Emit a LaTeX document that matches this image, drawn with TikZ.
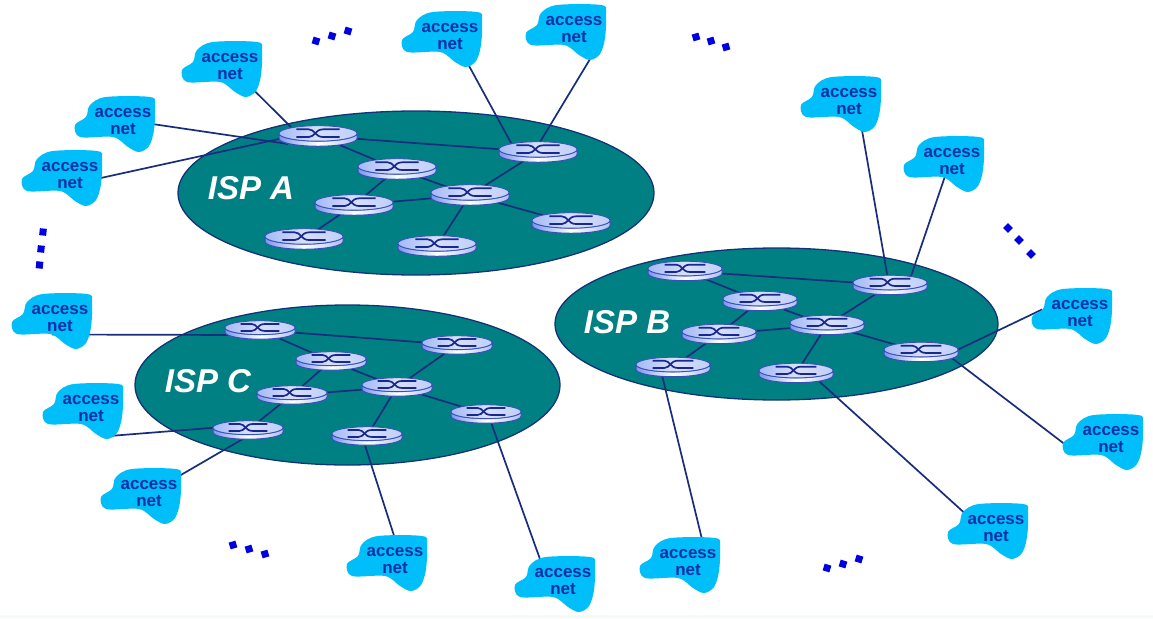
\documentclass[tikz,border=0pt]{standalone}
\usepackage{fontspec}
\setmainfont{Liberation Sans}
\usetikzlibrary{shapes.geometric,calc}
\definecolor{ispteal}{RGB}{0,128,130}
\definecolor{ispedge}{RGB}{20,50,120}
\definecolor{linkblue}{RGB}{25,45,125}
\definecolor{cloudblue}{RGB}{0,190,250}
\definecolor{cloudtext}{RGB}{10,50,165}
\definecolor{dotblue}{RGB}{0,0,225}
\definecolor{rtop}{RGB}{165,185,245}
\definecolor{rside}{RGB}{125,150,235}
\definecolor{redge}{RGB}{55,80,185}
\definecolor{rglyph}{RGB}{25,40,140}
\definecolor{stripcol}{RGB}{244,250,250}
\pgfdeclarelayer{backlayer}
\pgfdeclarelayer{linklayer}
\pgfsetlayers{backlayer,linklayer,main}
\tikzset{
  isp/.style={ellipse,draw=ispedge,fill=ispteal,line width=1.3pt,inner sep=0pt},
  isplabel/.style={text=white,font=\fontsize{33}{35}\selectfont\bfseries\itshape,inner sep=0pt},
  net/.style={draw=linkblue,line width=1.7pt},
  rtr/.style={inner sep=0pt,minimum width=1pt,minimum height=1pt},
  nettext/.style={align=center,text=cloudtext,inner sep=0pt,font=\fontsize{17}{16.5}\selectfont\bfseries},
  sqdot/.style={fill=dotblue,minimum size=7pt,inner sep=0pt}
}
% name, x, y, width
\newcommand\routerbox[4]{%
  \node[rtr] (#1) at (#2,#3) {};
  \begin{scope}[shift={(#2,#3)},scale=#4/76]
    \path[left color=rside,right color=rside!60!white,middle color=white,draw=redge,line width=1pt]
      (-38,-2.5) -- (-38,2.5) arc[start angle=180,end angle=0,x radius=38,y radius=7.5]
      -- (38,-2.5) arc[start angle=0,end angle=180,x radius=38,y radius=7.5] -- cycle;
    \path[left color=rtop,right color=rtop!70!white,middle color=rtop!45!white,draw=redge,line width=0.8pt]
      (0,-2.5) ellipse[x radius=38,y radius=7.5];
    \draw[rglyph,line width=1.7pt] (-21,-6.5) -- (-9,-6.5) .. controls (-3,-6.5) and (-3,1) .. (5,1) -- (21,1);
    \draw[rglyph,line width=1.7pt] (-21,1) -- (-9,1) .. controls (-3,1) and (-3,-6.5) .. (5,-6.5) -- (21,-6.5);
  \end{scope}%
}
% name, x, y
\newcommand\accessnet[3]{%
  \fill[cloudblue,shift={(#2,#3)}] plot[smooth cycle,tension=0.55] coordinates
   {(-48,5) (-37,-3) (-33,-15) (-17,-23) (27,-23) (32,-15) (31,10) (26,26) (16,32) (5,27) (-10,17) (-43,17)};
  \node[nettext] (#1) at ($(#2,#3)+(0,1.5)$) {access\\net};
}
% name prefix, three points, angle
\newcommand\dotthree[7]{%
  \node[sqdot,rotate=#7] (#1a) at (#2) {};
  \node[sqdot,rotate=#7] (#1b) at (#3) {};
  \node[sqdot,rotate=#7] (#1c) at (#4) {};
}
\begin{document}
\begin{tikzpicture}[x=1pt,y=-1pt]
\useasboundingbox (0,0) rectangle (1153,618);
\begin{pgfonlayer}{backlayer}
  \fill[white] (0,0) rectangle (1153,618);
  \fill[stripcol] (0,615) rectangle (1153,618);
  \node[isp,minimum width=476pt,minimum height=164pt] (ispa) at (416,193) {};
  \node[isp,minimum width=443pt,minimum height=152pt] (ispb) at (776.5,324) {};
  \node[isp,minimum width=425pt,minimum height=160pt] (ispc) at (347.5,385) {};
\end{pgfonlayer}
\node[isplabel] (la) at (251,188) {ISP A};
\node[isplabel] (lb) at (627,322) {ISP B};
\node[isplabel] (lc) at (208,381) {ISP C};
% routers
\routerbox{a1}{318}{136}{78}
\routerbox{a2}{397}{169}{78}
\routerbox{a3}{538}{152}{78}
\routerbox{a4}{470}{195}{78}
\routerbox{a5}{354}{205}{78}
\routerbox{a6}{304}{239}{78}
\routerbox{a7}{437}{246}{78}
\routerbox{a8}{571}{223}{78}
\routerbox{b1}{685}{271}{74}
\routerbox{b2}{760}{301}{74}
\routerbox{b3}{890}{285}{74}
\routerbox{b4}{827}{325}{74}
\routerbox{b5}{719}{334}{74}
\routerbox{b6}{673}{367}{74}
\routerbox{b7}{796}{373}{74}
\routerbox{b8}{921}{352}{74}
\routerbox{c1}{260}{330}{70}
\routerbox{c2}{331}{361}{70}
\routerbox{c3}{457}{345}{70}
\routerbox{c4}{397}{387}{70}
\routerbox{c5}{292}{395}{70}
\routerbox{c6}{248}{430}{70}
\routerbox{c7}{367}{436}{70}
\routerbox{c8}{486}{414}{70}
% clouds
\accessnet{na1}{230}{65}
\accessnet{na2}{123}{120}
\accessnet{na3}{70}{174}
\accessnet{na4}{450}{35}
\accessnet{na5}{574}{28}
\accessnet{nb1}{849}{100}
\accessnet{nb2}{952}{160}
\accessnet{nb3}{1080}{312}
\accessnet{nb4}{1111}{438}
\accessnet{nb5}{996}{527}
\accessnet{nb6}{688}{561}
\accessnet{nc1}{60}{317}
\accessnet{nc2}{91}{407}
\accessnet{nc3}{149}{492}
\accessnet{nc4}{395}{559}
\accessnet{nc5}{563}{580}
% links
\begin{pgfonlayer}{linklayer}
  \foreach \p in {a,b,c}{
    \draw[net] (\p1) -- (\p2);
    \draw[net] (\p1) -- (\p3);
    \draw[net] (\p2) -- (\p4);
    \draw[net] (\p3) -- (\p4);
    \draw[net] (\p2) -- (\p5);
    \draw[net] (\p5) -- (\p4);
    \draw[net] (\p5) -- (\p6);
    \draw[net] (\p4) -- (\p7);
    \draw[net] (\p4) -- (\p8);
  }
  \draw[net] (na1) -- ([shift={(-18,0)}]a1.center);
  \draw[net] ([shift={(-8,-3)}]na2.center) -- ([shift={(-30,8)}]a1.center);
  \draw[net] ([shift={(-8,11)}]na3.center) -- ([shift={(-30,1)}]a1.center);
  \draw[net] ([shift={(3,0)}]na4.center) -- ([shift={(-22,0)}]a3.center);
  \draw[net] ([shift={(20,23)}]na5.center) -- ([shift={(-4,0)}]a3.center);
  \draw[net] ([shift={(8,0)}]nb1.center) -- ([shift={(-1,0)}]b3.center);
  \draw[net] ([shift={(-2,0)}]nb2.center) -- ([shift={(18,0)}]b3.center);
  \draw[net] ([shift={(-38,-4)}]nb3.center) -- ([shift={(30,1)}]b8.center);
  \draw[net] ([shift={(-38,11)}]nb4.center) -- ([shift={(19,-3)}]b8.center);
  \draw[net] ([shift={(-21,-6)}]nb5.center) -- ([shift={(14,0)}]b7.center);
  \draw[net] ([shift={(17,-11)}]nb6.center) -- ([shift={(-13,0)}]b6.center);
  \draw[net] ([shift={(-8,16)}]nc1.center) -- ([shift={(-20,5)}]c1.center);
  \draw[net] ([shift={(12,28)}]nc2.center) -- ([shift={(-25,-3)}]c6.center);
  \draw[net] (nc3) -- ([shift={(0,6)}]c6.center);
  \draw[net] ([shift={(7,0)}]nc4.center) -- ([shift={(-5,0)}]c7.center);
  \draw[net] ([shift={(-15,0)}]nc5.center) -- ([shift={(2,0)}]c8.center);
\end{pgfonlayer}
% dots
\dotthree{dt}{316,41}{332,36}{348,31}{}{}{-17}
\dotthree{du}{696,37}{711,41}{726,47}{}{}{17}
\dotthree{dv}{1008,228}{1019,240}{1031,254}{}{}{45}
\dotthree{dw}{43,232}{41,249}{39.5,265}{}{}{-6}
\dotthree{dx}{233,545}{249,549}{265,554}{}{}{17}
\dotthree{dy}{827,568}{843,564}{859,559}{}{}{-17}
\end{tikzpicture}
\end{document}
